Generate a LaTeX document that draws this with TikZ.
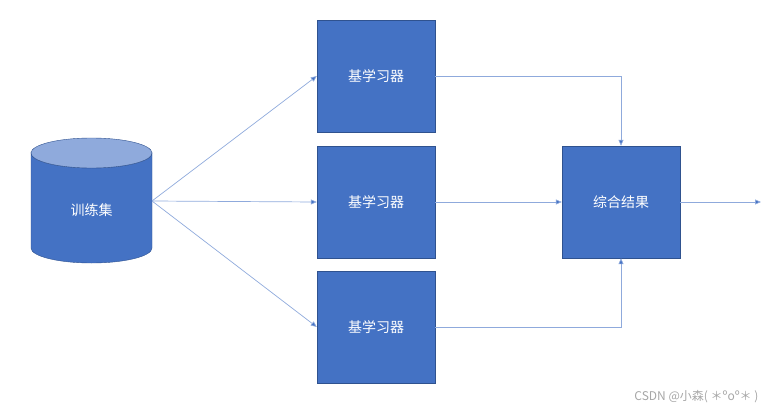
\documentclass[tikz,border=0pt]{standalone}
\usepackage{fontspec}
\setmainfont{Liberation Sans}
\newfontfamily\cjk{Noto Sans CJK SC}
\usetikzlibrary{shapes.geometric,arrows.meta}
\definecolor{boxfill}{HTML}{4472C4}
\definecolor{boxline}{HTML}{2F528F}
\definecolor{conn}{HTML}{8FAADC}
\definecolor{cyltop}{HTML}{8FAADC}
\begin{document}
\begin{tikzpicture}[x=1pt,y=-1pt,
  box/.style={draw=boxline,fill=boxfill,minimum width=118pt,minimum height=112pt,text=white,font=\cjk\fontsize{14}{16}\selectfont,inner sep=0},
  conline/.style={draw=conn,line width=0.7pt,-{Triangle[length=6pt,width=5pt,fill=boxfill]}}]
\useasboundingbox (0,0) rectangle (767,417);
\node[box] (b1) at (376,76) {基学习器};
\node[box] (b2) at (376,202) {基学习器};
\node[box] (b3) at (376,327) {基学习器};
\node[box] (r) at (621,202) {综合结果};
% cylinder
\fill[boxfill,draw=boxline] (31,153) -- (31,248) arc[start angle=180,end angle=360,x radius=60.5,y radius=-15] -- (152,153) arc[start angle=0,end angle=180,x radius=60.5,y radius=15] -- cycle;
\draw[boxline,fill=cyltop] (91.5,153) ellipse[x radius=60.5,y radius=15];
\node[text=white,font=\cjk\fontsize{14}{16}\selectfont] (c) at (91.5,210) {训练集};
\coordinate (cr) at (152,201);
\draw[conline] (cr) -- (b1.west);
\draw[conline] (cr) -- (b2.west);
\draw[conline] (cr) -- (b3.west);
\draw[conline] (b1.east) -| (r.north);
\draw[conline] (b3.east) -| (r.south);
\draw[conline] (b2.east) -- (r.west);
\coordinate (out) at (761,202);
\draw[conline] (r.east) -- (out);
\node[anchor=east,text=gray!70,font=\cjk\fontsize{12}{14}\selectfont] (wm) at (762,397) {CSDN @小森( ＊ºoº＊ )};
\end{tikzpicture}
\end{document}
